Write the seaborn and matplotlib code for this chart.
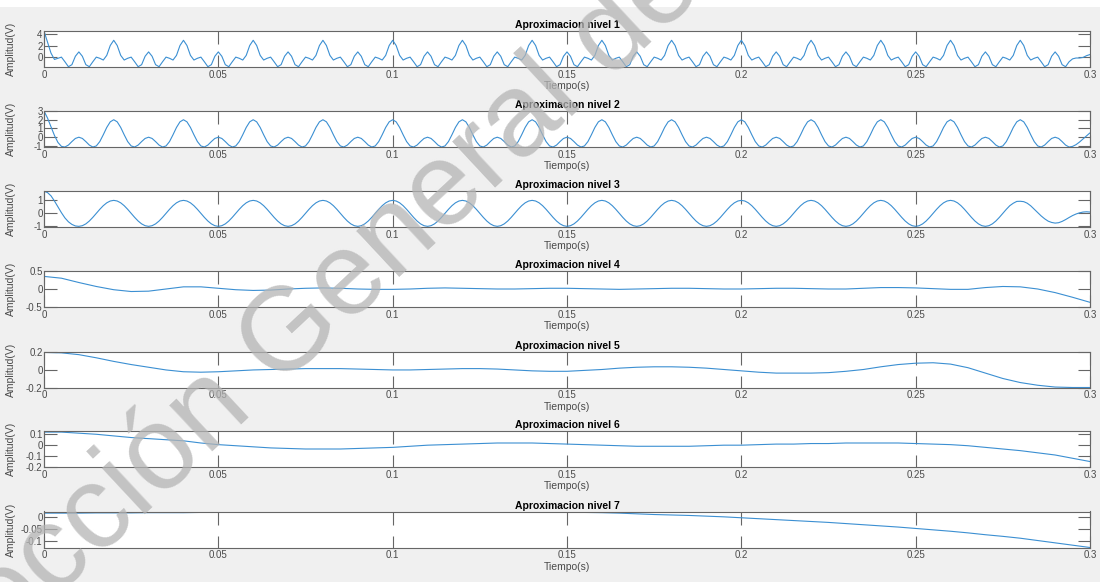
import numpy as np
import pandas as pd
import matplotlib
matplotlib.use("Agg")
import matplotlib.pyplot as plt
import seaborn as sns
from matplotlib.patches import Rectangle

# time axes: fast levels sampled every 1 ms, slow levels read every 5 ms
t_fast = np.round(np.arange(0, 301) * 0.001, 3)
t_slow = np.round(np.arange(0, 61) * 0.005, 3)

# nivel 1 (one line per 20 ms cycle)
nivel1 = [
    4.5, 2.6, 0.7, -0.4, -0.2, 0.0, -0.8, -1.65, -1.3, 0.15, 0.9, 0.15, -1.3, -1.65, -0.8, 0.0, -0.2, -0.5, 0.3, 2.0,
    2.9, 2.0, 0.3, -0.5, -0.2, 0.0, -0.8, -1.65, -1.3, 0.15, 0.9, 0.15, -1.3, -1.65, -0.8, 0.0, -0.2, -0.5, 0.3, 2.0,
    2.9, 2.0, 0.3, -0.5, -0.2, 0.0, -0.8, -1.65, -1.3, 0.15, 0.9, 0.15, -1.3, -1.65, -0.8, 0.0, -0.2, -0.5, 0.3, 2.0,
    2.9, 2.0, 0.3, -0.5, -0.2, 0.0, -0.8, -1.65, -1.3, 0.15, 0.9, 0.15, -1.3, -1.65, -0.8, 0.0, -0.2, -0.5, 0.3, 2.0,
    2.9, 2.0, 0.3, -0.5, -0.2, 0.0, -0.8, -1.65, -1.3, 0.15, 0.9, 0.15, -1.3, -1.65, -0.8, 0.0, -0.2, -0.5, 0.3, 2.0,
    2.9, 2.0, 0.3, -0.5, -0.2, 0.0, -0.8, -1.65, -1.3, 0.15, 0.9, 0.15, -1.3, -1.65, -0.8, 0.0, -0.2, -0.5, 0.3, 2.0,
    2.9, 2.0, 0.3, -0.5, -0.2, 0.0, -0.8, -1.65, -1.3, 0.15, 0.9, 0.15, -1.3, -1.65, -0.8, 0.0, -0.2, -0.5, 0.3, 2.0,
    2.9, 2.0, 0.3, -0.5, -0.2, 0.0, -0.8, -1.65, -1.3, 0.15, 0.9, 0.15, -1.3, -1.65, -0.8, 0.0, -0.2, -0.5, 0.3, 2.0,
    2.9, 2.0, 0.3, -0.5, -0.2, 0.0, -0.8, -1.65, -1.3, 0.15, 0.9, 0.15, -1.3, -1.65, -0.8, 0.0, -0.2, -0.5, 0.3, 2.0,
    2.9, 2.0, 0.3, -0.5, -0.2, 0.0, -0.8, -1.65, -1.3, 0.15, 0.9, 0.15, -1.3, -1.65, -0.8, 0.0, -0.2, -0.5, 0.3, 2.0,
    2.9, 2.0, 0.3, -0.5, -0.2, 0.0, -0.8, -1.65, -1.3, 0.15, 0.9, 0.15, -1.3, -1.65, -0.8, 0.0, -0.2, -0.5, 0.3, 2.0,
    2.9, 2.0, 0.3, -0.5, -0.2, 0.0, -0.8, -1.65, -1.3, 0.15, 0.9, 0.15, -1.3, -1.65, -0.8, 0.0, -0.2, -0.5, 0.3, 2.0,
    2.9, 2.0, 0.3, -0.5, -0.2, 0.0, -0.8, -1.65, -1.3, 0.15, 0.9, 0.15, -1.3, -1.65, -0.8, 0.0, -0.2, -0.5, 0.3, 2.0,
    2.9, 2.0, 0.3, -0.5, -0.2, 0.0, -0.8, -1.65, -1.3, 0.15, 0.9, 0.15, -1.3, -1.65, -0.8, 0.0, -0.2, -0.5, 0.3, 2.0,
    2.9, 2.0, 0.3, -0.5, -0.2, 0.0, -0.8, -1.65, -1.3, 0.15, 0.9, 0.15, -1.3, -1.65, -0.8, -0.3, -0.15, -0.15, -0.05, 0.25,
    0.45,
]

nivel2 = [
    3.0, 2.2, 1.2, 0.2, -0.6, -1.05, -1.12, -0.9, -0.5, -0.14, 0.0, -0.14, -0.5, -0.9, -1.12, -1.0, -0.5, 0.28, 1.12, 1.76,
    2.0, 1.76, 1.12, 0.28, -0.5, -1.0, -1.12, -0.9, -0.5, -0.14, 0.0, -0.14, -0.5, -0.9, -1.12, -1.0, -0.5, 0.28, 1.12, 1.76,
    2.0, 1.76, 1.12, 0.28, -0.5, -1.0, -1.12, -0.9, -0.5, -0.14, 0.0, -0.14, -0.5, -0.9, -1.12, -1.0, -0.5, 0.28, 1.12, 1.76,
    2.0, 1.76, 1.12, 0.28, -0.5, -1.0, -1.12, -0.9, -0.5, -0.14, 0.0, -0.14, -0.5, -0.9, -1.12, -1.0, -0.5, 0.28, 1.12, 1.76,
    2.0, 1.76, 1.12, 0.28, -0.5, -1.0, -1.12, -0.9, -0.5, -0.14, 0.0, -0.14, -0.5, -0.9, -1.12, -1.0, -0.5, 0.28, 1.12, 1.76,
    2.0, 1.76, 1.12, 0.28, -0.5, -1.0, -1.12, -0.9, -0.5, -0.14, 0.0, -0.14, -0.5, -0.9, -1.12, -1.0, -0.5, 0.28, 1.12, 1.76,
    2.0, 1.76, 1.12, 0.28, -0.5, -1.0, -1.12, -0.9, -0.5, -0.14, 0.0, -0.14, -0.5, -0.9, -1.12, -1.0, -0.5, 0.28, 1.12, 1.76,
    2.0, 1.76, 1.12, 0.28, -0.5, -1.0, -1.12, -0.9, -0.5, -0.14, 0.0, -0.14, -0.5, -0.9, -1.12, -1.0, -0.5, 0.28, 1.12, 1.76,
    2.0, 1.76, 1.12, 0.28, -0.5, -1.0, -1.12, -0.9, -0.5, -0.14, 0.0, -0.14, -0.5, -0.9, -1.12, -1.0, -0.5, 0.28, 1.12, 1.76,
    2.0, 1.76, 1.12, 0.28, -0.5, -1.0, -1.12, -0.9, -0.5, -0.14, 0.0, -0.14, -0.5, -0.9, -1.12, -1.0, -0.5, 0.28, 1.12, 1.76,
    2.0, 1.76, 1.12, 0.28, -0.5, -1.0, -1.12, -0.9, -0.5, -0.14, 0.0, -0.14, -0.5, -0.9, -1.12, -1.0, -0.5, 0.28, 1.12, 1.76,
    2.0, 1.76, 1.12, 0.28, -0.5, -1.0, -1.12, -0.9, -0.5, -0.14, 0.0, -0.14, -0.5, -0.9, -1.12, -1.0, -0.5, 0.28, 1.12, 1.76,
    2.0, 1.76, 1.12, 0.28, -0.5, -1.0, -1.12, -0.9, -0.5, -0.14, 0.0, -0.14, -0.5, -0.9, -1.12, -1.0, -0.5, 0.28, 1.12, 1.76,
    2.0, 1.76, 1.12, 0.28, -0.5, -1.0, -1.12, -0.9, -0.5, -0.14, 0.0, -0.14, -0.5, -0.9, -1.12, -1.0, -0.5, 0.28, 1.12, 1.76,
    2.0, 1.76, 1.12, 0.28, -0.5, -1.0, -1.12, -0.9, -0.5, -0.14, 0.0, -0.14, -0.5, -0.9, -1.12, -1.05, -0.85, -0.55, -0.2, 0.15,
    0.5,
]

nivel3 = [
    1.7, 1.6, 1.35, 0.95, 0.5, 0.05, -0.35, -0.65, -0.85, -0.97, -1.0, -0.95, -0.81, -0.59, -0.31, 0.0, 0.31, 0.59, 0.81, 0.95,
    1.0, 0.95, 0.81, 0.59, 0.31, 0.0, -0.31, -0.59, -0.81, -0.95, -1.0, -0.95, -0.81, -0.59, -0.31, 0.0, 0.31, 0.59, 0.81, 0.95,
    1.0, 0.95, 0.81, 0.59, 0.31, 0.0, -0.31, -0.59, -0.81, -0.95, -1.0, -0.95, -0.81, -0.59, -0.31, 0.0, 0.31, 0.59, 0.81, 0.95,
    1.0, 0.95, 0.81, 0.59, 0.31, 0.0, -0.31, -0.59, -0.81, -0.95, -1.0, -0.95, -0.81, -0.59, -0.31, 0.0, 0.31, 0.59, 0.81, 0.95,
    1.0, 0.95, 0.81, 0.59, 0.31, 0.0, -0.31, -0.59, -0.81, -0.95, -1.0, -0.95, -0.81, -0.59, -0.31, 0.0, 0.31, 0.59, 0.81, 0.95,
    1.0, 0.95, 0.81, 0.59, 0.31, 0.0, -0.31, -0.59, -0.81, -0.95, -1.0, -0.95, -0.81, -0.59, -0.31, 0.0, 0.31, 0.59, 0.81, 0.95,
    1.0, 0.95, 0.81, 0.59, 0.31, 0.0, -0.31, -0.59, -0.81, -0.95, -1.0, -0.95, -0.81, -0.59, -0.31, 0.0, 0.31, 0.59, 0.81, 0.95,
    1.0, 0.95, 0.81, 0.59, 0.31, 0.0, -0.31, -0.59, -0.81, -0.95, -1.0, -0.95, -0.81, -0.59, -0.31, 0.0, 0.31, 0.59, 0.81, 0.95,
    1.0, 0.95, 0.81, 0.59, 0.31, 0.0, -0.31, -0.59, -0.81, -0.95, -1.0, -0.95, -0.81, -0.59, -0.31, 0.0, 0.31, 0.59, 0.81, 0.95,
    1.0, 0.95, 0.81, 0.59, 0.31, 0.0, -0.31, -0.59, -0.81, -0.95, -1.0, -0.95, -0.81, -0.59, -0.31, 0.0, 0.31, 0.59, 0.81, 0.95,
    1.0, 0.95, 0.81, 0.59, 0.31, 0.0, -0.31, -0.59, -0.81, -0.95, -1.0, -0.95, -0.81, -0.59, -0.31, 0.0, 0.31, 0.59, 0.81, 0.95,
    1.0, 0.95, 0.81, 0.59, 0.31, 0.0, -0.31, -0.59, -0.81, -0.95, -1.0, -0.95, -0.81, -0.59, -0.31, 0.0, 0.31, 0.59, 0.81, 0.95,
    1.0, 0.95, 0.81, 0.59, 0.31, 0.0, -0.31, -0.59, -0.81, -0.95, -1.0, -0.95, -0.81, -0.59, -0.31, 0.0, 0.31, 0.59, 0.81, 0.95,
    1.0, 0.95, 0.81, 0.59, 0.31, 0.0, -0.31, -0.59, -0.81, -0.95, -1.0, -0.95, -0.81, -0.59, -0.31, 0.0, 0.31, 0.59, 0.78, 0.92,
    0.93, 0.9, 0.78, 0.58, 0.32, 0.05, -0.2, -0.42, -0.6, -0.7, -0.75, -0.72, -0.62, -0.48, -0.32, -0.17, -0.05, 0.04, 0.1, 0.12,
    0.1,
]

nivel4 = [
    0.35, 0.30, 0.18, 0.07, -0.02, -0.07, -0.06, 0.0, 0.06, 0.06,
    0.02, -0.02, -0.04, -0.03, 0.0, 0.02, 0.03, 0.02, 0.0, -0.01,
    -0.01, 0.0, 0.02, 0.03, 0.02, 0.01, 0.0, 0.0, 0.01, 0.02,
    0.02, 0.01, 0.0, -0.01, 0.0, 0.01, 0.02, 0.02, 0.01, 0.0,
    0.0, 0.01, 0.02, 0.02, 0.01, 0.0, 0.0, 0.02, 0.04, 0.04,
    0.03, 0.01, -0.01, -0.01, 0.04, 0.07, 0.06, 0.0, -0.1, -0.23,
    -0.37,
]

nivel5 = [
    0.19, 0.185, 0.165, 0.13, 0.09, 0.055, 0.025, -0.005, -0.025, -0.03,
    -0.025, -0.015, -0.005, 0.0, 0.005, 0.01, 0.01, 0.01, 0.005, 0.0,
    -0.005, -0.005, 0.0, 0.005, 0.01, 0.01, 0.005, -0.005, -0.015, -0.02,
    -0.02, -0.01, 0.0, 0.015, 0.025, 0.03, 0.03, 0.025, 0.015, 0.0,
    -0.015, -0.03, -0.04, -0.04, -0.04, -0.035, -0.02, 0.0, 0.03, 0.055,
    0.07, 0.075, 0.06, 0.02, -0.04, -0.1, -0.145, -0.175, -0.195, -0.2,
    -0.2,
]

nivel6 = [
    0.12, 0.12, 0.11, 0.1, 0.085, 0.07, 0.06, 0.05, 0.04, 0.02,
    0.005, -0.005, -0.015, -0.025, -0.03, -0.035, -0.035, -0.035, -0.03, -0.025,
    -0.02, -0.01, 0.0, 0.005, 0.01, 0.015, 0.02, 0.02, 0.02, 0.015,
    0.01, 0.005, 0.0, -0.005, -0.01, -0.01, -0.01, -0.01, -0.005, 0.0,
    0.0, 0.005, 0.01, 0.01, 0.015, 0.015, 0.02, 0.02, 0.02, 0.02,
    0.015, 0.01, 0.005, -0.005, -0.02, -0.035, -0.05, -0.07, -0.09, -0.12,
    -0.15,
]

nivel7 = [
    0.018, 0.018, 0.018, 0.019, 0.019, 0.019, 0.02, 0.02, 0.02, 0.021,
    0.021, 0.021, 0.022, 0.022, 0.022, 0.022, 0.023, 0.023, 0.023, 0.023,
    0.023, 0.023, 0.023, 0.023, 0.023, 0.023, 0.023, 0.023, 0.022, 0.022,
    0.022, 0.021, 0.02, 0.018, 0.015, 0.012, 0.01, 0.008, 0.005, 0.002,
    -0.002, -0.006, -0.01, -0.014, -0.018, -0.022, -0.027, -0.032, -0.037, -0.042,
    -0.048, -0.054, -0.06, -0.067, -0.075, -0.082, -0.09, -0.1, -0.11, -0.12,
    -0.13,
]

titles = ["Aproximacion nivel %d" % i for i in range(1, 8)]
series = [(t_fast, nivel1), (t_fast, nivel2), (t_fast, nivel3),
          (t_slow, nivel4), (t_slow, nivel5), (t_slow, nivel6), (t_slow, nivel7)]
ylims = [(-1.7, 4.5), (-1.12, 3.0), (-1.05, 1.72), (-0.5, 0.5),
         (-0.2, 0.2), (-0.2, 0.13), (-0.13, 0.025)]
yticks = [[0, 2, 4], [-1, 0, 1, 2, 3], [-1, 0, 1], [-0.5, 0, 0.5],
          [-0.2, 0, 0.2], [-0.2, -0.1, 0, 0.1], [-0.1, -0.05, 0]]
xticks = [0, 0.05, 0.1, 0.15, 0.2, 0.25, 0.3]
xticklabels = ["0", "0.05", "0.1", "0.15", "0.2", "0.25", "0.3"]

sns.set_theme(style="white")
plt.rcParams["font.family"] = ["Liberation Sans", "DejaVu Sans"]

W, H = 1100, 582
fig = plt.figure(figsize=(W / 100, H / 100), dpi=100, facecolor="#f0f0f0")
fig.add_artist(Rectangle((0, 1 - 7 / H), 1, 7 / H, transform=fig.transFigure,
                         facecolor="white", edgecolor="none", zorder=-1))

line_color = "#3b8fd2"
axis_color = "#666666"
tops = [31, 111, 191, 271, 351.5, 431, 511.5]
left, right, height = 44, 1090, 36

for i, (t, y) in enumerate(series):
    ax = fig.add_axes([left / W, 1 - (tops[i] + height) / H, (right - left) / W, height / H])
    ax.set_facecolor("white")
    df = pd.DataFrame({"t": t, "v": y})
    sns.lineplot(data=df, x="t", y="v", ax=ax, color=line_color, linewidth=0.8)
    ax.set_xlim(0, 0.3)
    ax.set_ylim(*ylims[i])
    ax.set_xticks(xticks)
    ax.set_xticklabels(xticklabels)
    ax.set_yticks(yticks[i])
    ax.set_yticklabels([("%g" % v) for v in yticks[i]])
    ax.tick_params(direction="in", length=9, width=0.8, color=axis_color,
                   labelsize=7, labelcolor="#4a4a4a", pad=2,
                   top=True, right=True, bottom=True, left=True)
    ax.tick_params(axis="y", pad=1)
    for sp in ax.spines.values():
        sp.set_color(axis_color)
        sp.set_linewidth(0.8)
    ax.set_title(titles[i], fontsize=7.5, fontweight="bold", color="black", pad=2)
    ax.set_xlabel("Tiempo(s)", fontsize=7.5, color="#4a4a4a", labelpad=1)
    ax.set_ylabel("Amplitud(V)", fontsize=7.5, color="#4a4a4a")
    ax.yaxis.set_label_coords((16 - left) / (right - left), 0.5)

# watermark
fig.text(-105 / W, -165 / H, "Dirección General de Bibliotecas", fontsize=85,
         rotation=43, rotation_mode="anchor", ha="left", va="baseline",
         color="#b4b4b4", alpha=0.75, transform=fig.transFigure, zorder=10)

fig.savefig("out.png", dpi=100, facecolor=fig.get_facecolor())
